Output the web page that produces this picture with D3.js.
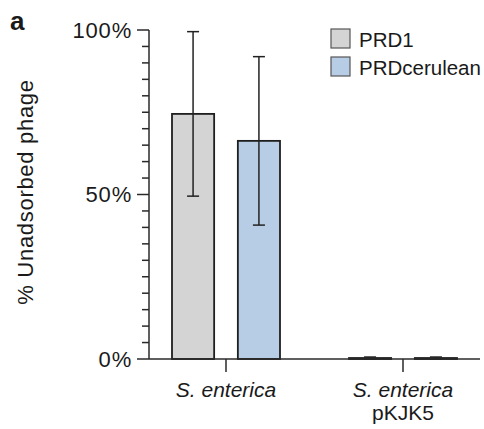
<!DOCTYPE html>
<html>
<head>
<meta charset="utf-8">
<script src="https://cdn.jsdelivr.net/npm/d3@7"></script>
<style>
  body { margin: 0; background: #fff; }
  text { font-family: "Liberation Sans", Arial, Helvetica, sans-serif; fill: #1a1a1a; }
</style>
</head>
<body>
<svg id="chart" width="484" height="429"></svg>
<script>
// Data
var groups = ["S. enterica", "S. enterica pKJK5"];
var groupLines = [["S. enterica"], ["S. enterica", "pKJK5"]];
var series = ["PRD1", "PRDcerulean"];
var colors = ["#d3d4d3", "#b7cde5"];
var prd1Mean = [74.5, 0.3];
var prd1Err = [25.0, 0.3];
var ceruleanMean = [66.3, 0.3];
var ceruleanErr = [25.6, 0.3];
var yTicks = [0, 50, 100];

var svg = d3.select("#chart");

var x0 = d3.scalePoint().domain(groups).range([149, 480]).padding(0.435);
var x1 = d3.scaleBand().domain(series).range([-54, 54]).paddingInner(0.36);
var y = d3.scaleLinear().domain([0, 100]).range([359, 30]);

var rows = [];
groups.forEach(function(g, i) {
    rows.push({group: g, s: series[0], mean: prd1Mean[i], err: prd1Err[i], color: colors[0]});
    rows.push({group: g, s: series[1], mean: ceruleanMean[i], err: ceruleanErr[i], color: colors[1]});
});

// bars
svg.selectAll(".bar")
    .data(rows)
    .enter().append("rect")
    .attr("class", "bar")
    .attr("x", function(d) { return x0(d.group) + x1(d.s); })
    .attr("y", function(d) { return y(d.mean); })
    .attr("width", x1.bandwidth())
    .attr("height", function(d) { return y(0) - y(d.mean); })
    .style("fill", function(d) { return d.color; })
    .style("stroke", "#1e1e1e")
    .style("stroke-width", 1.8);

// error bars
var eb = svg.selectAll(".err").data(rows).enter().append("g").attr("class", "err")
    .style("stroke", "#222").style("stroke-width", 1.5);
eb.append("line")
    .attr("x1", function(d) { return x0(d.group) + x1(d.s) + x1.bandwidth() / 2; })
    .attr("x2", function(d) { return x0(d.group) + x1(d.s) + x1.bandwidth() / 2; })
    .attr("y1", function(d) { return y(d.mean - d.err); })
    .attr("y2", function(d) { return y(d.mean + d.err); });
[-1, 1].forEach(function(sgn) {
    eb.append("line")
        .attr("x1", function(d) { return x0(d.group) + x1(d.s) + x1.bandwidth() / 2 - 6; })
        .attr("x2", function(d) { return x0(d.group) + x1(d.s) + x1.bandwidth() / 2 + 6; })
        .attr("y1", function(d) { return y(d.mean + sgn * d.err); })
        .attr("y2", function(d) { return y(d.mean + sgn * d.err); });
});

// y axis: minor ticks every 5%
var yAxis = svg.append("g").attr("class", "y-axis")
    .style("stroke", "#2a2a2a").style("stroke-width", 1.5);
yAxis.append("line").attr("x1", 149).attr("x2", 149).attr("y1", y(0)).attr("y2", y(100));
yAxis.selectAll(".tk").data(d3.range(0, 101, 5)).enter().append("line")
    .attr("x1", function(d) { return yTicks.indexOf(d) >= 0 ? 137 : 142; })
    .attr("x2", 149)
    .attr("y1", function(d) { return y(d); })
    .attr("y2", function(d) { return y(d); });
svg.selectAll(".ylab").data(yTicks).enter().append("text")
    .attr("x", 132)
    .attr("y", function(d) { return y(d); })
    .attr("dy", "0.36em")
    .attr("text-anchor", "end")
    .style("font-size", "22px")
    .style("letter-spacing", "0.8px")
    .text(function(d) { return d + "%"; });

// x axis
var xAxis = svg.append("g").style("stroke", "#2a2a2a").style("stroke-width", 1.5);
xAxis.append("line").attr("x1", 149).attr("x2", 480).attr("y1", y(0)).attr("y2", y(0));
xAxis.selectAll(".xt").data(groups).enter().append("line")
    .attr("x1", function(d) { return x0(d); })
    .attr("x2", function(d) { return x0(d); })
    .attr("y1", y(0)).attr("y2", y(0) + 13);

groups.forEach(function(g, i) {
    var t = svg.append("text")
        .attr("x", x0(g))
        .attr("y", 397)
        .attr("text-anchor", "middle")
        .style("font-size", "21px");
    groupLines[i].forEach(function(line, j) {
        t.append("tspan")
            .attr("x", x0(g))
            .attr("dy", j === 0 ? 0 : 23)
            .style("font-style", line === "pKJK5" ? "normal" : "italic")
            .text(line);
    });
});

// y title
svg.append("text")
    .attr("transform", "translate(33,192) rotate(-90)")
    .attr("text-anchor", "middle")
    .style("font-size", "22px")
    .style("letter-spacing", "0.7px")
    .text("% Unadsorbed phage");

// panel letter
svg.append("text")
    .attr("x", 10).attr("y", 30)
    .style("font-size", "26px").style("font-weight", "bold")
    .text("a");

// legend
var leg = svg.selectAll(".leg").data(series).enter().append("g")
    .attr("transform", function(d, i) { return "translate(331," + (29 + i * 28) + ")"; });
leg.append("rect")
    .attr("width", 19).attr("height", 19)
    .style("fill", function(d, i) { return colors[i]; })
    .style("stroke", "#555").style("stroke-width", 1.2);
leg.append("text")
    .attr("x", 28).attr("y", 17.5)
    .style("font-size", "20.5px")
    .text(function(d) { return d; });
</script>
</body>
</html>
